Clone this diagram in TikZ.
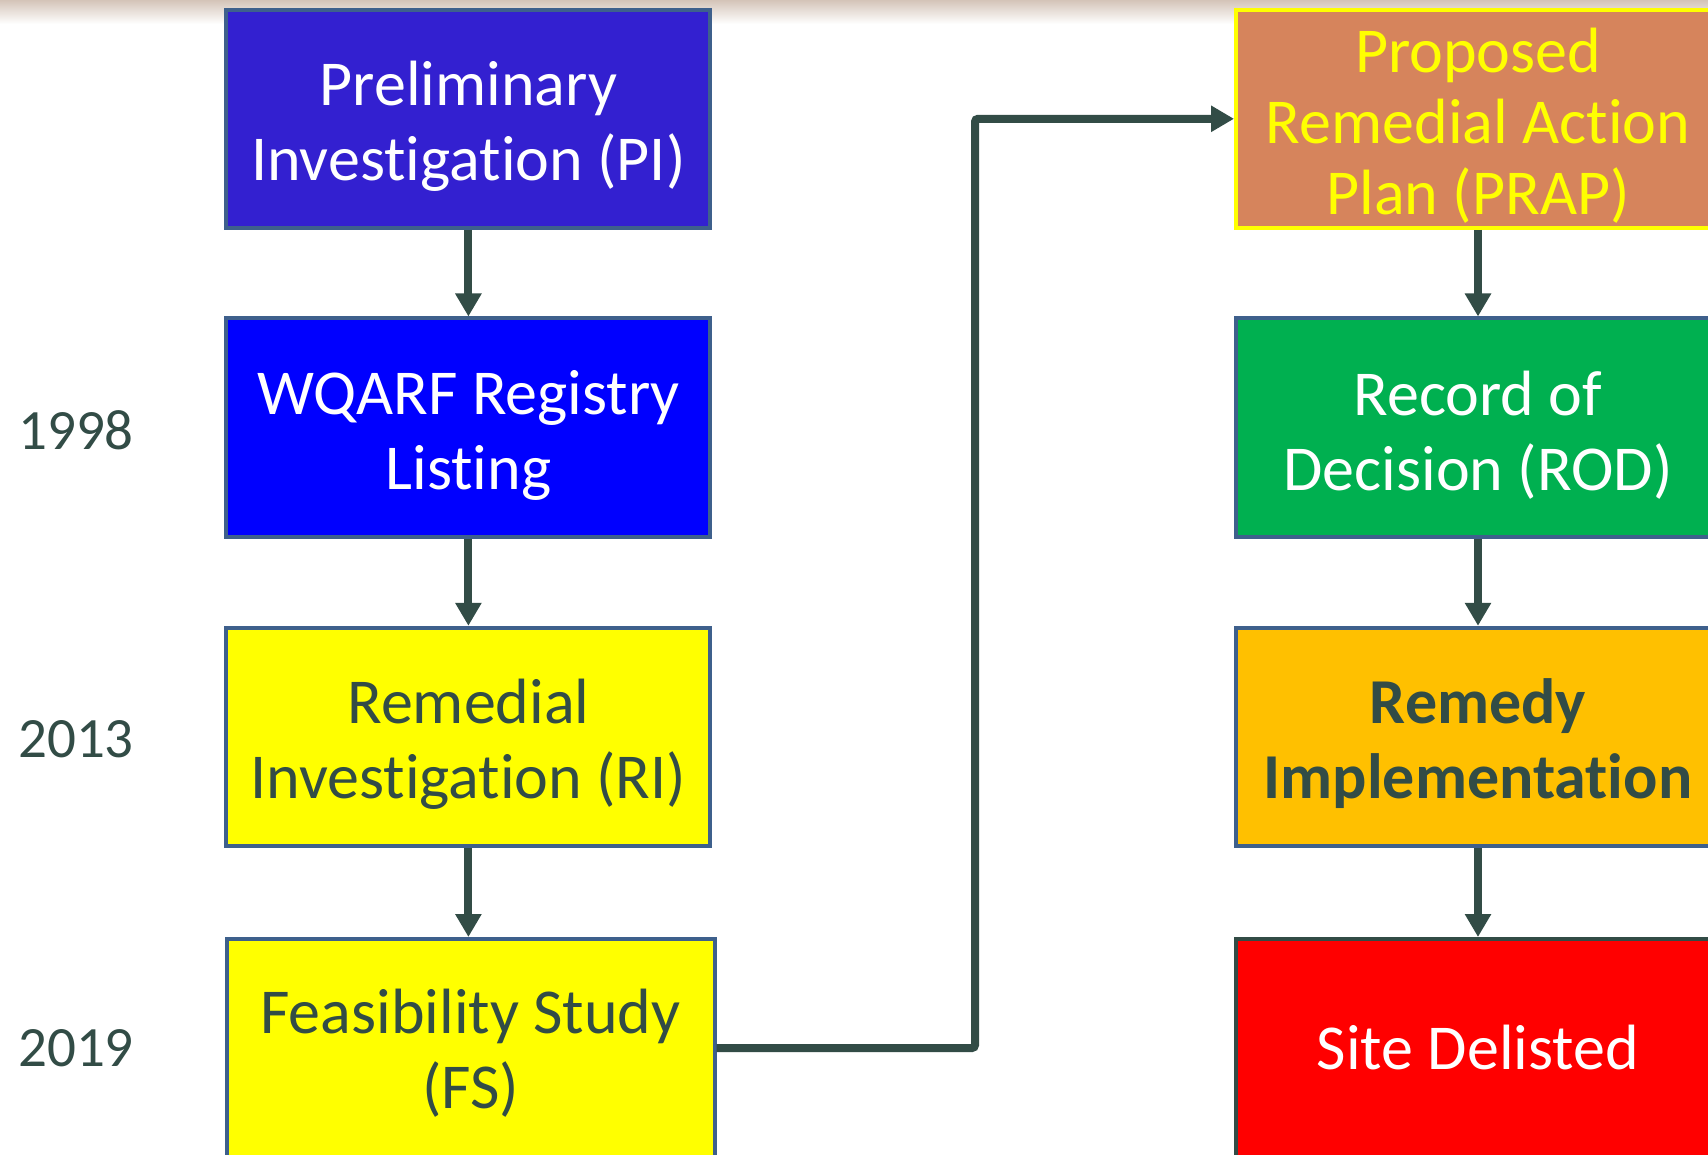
\documentclass[tikz,border=0pt]{standalone}
\usepackage{fontspec}
\setmainfont{Carlito}[Ligatures=NoCommon]
\usetikzlibrary{arrows.meta}
\definecolor{slate}{RGB}{50,76,70}
\definecolor{bordc}{RGB}{62,96,140}
\definecolor{piblue}{RGB}{51,32,208}
\definecolor{prapfill}{RGB}{214,132,92}
\definecolor{rodgreen}{RGB}{0,176,80}
\definecolor{amber}{RGB}{255,192,0}
\definecolor{topband}{RGB}{212,196,184}
\definecolor{pureyellow}{RGB}{255,255,0}
\newcommand\tstrut{\rule{0pt}{59pt}}
\newcommand\fstrut{\rule{0pt}{54pt}}
\tikzset{
  box/.style={draw=bordc, line width=4pt, minimum width=484pt, minimum height=218pt,
    inner sep=0pt, align=center, font=\fontsize{64}{75}\selectfont},
  conn/.style={draw=slate, line width=8pt, -{Triangle[width=25pt,length=23pt]}},
  year/.style={text=slate, font=\fontsize{57}{68}\selectfont, inner sep=0pt}
}
\begin{document}
\begin{tikzpicture}[x=1pt,y=-1pt]
\useasboundingbox (0,0) rectangle (1708,1155);
\clip (0,0) rectangle (1708,1155);
\fill[white] (0,0) rectangle (1708,1155);
\shade[top color=topband, bottom color=white] (0,0) rectangle (1708,24);
% left column
\node[box, fill=piblue, text=white] (pi) at (468.4,118.8) {\tstrut Preliminary\\Investigation (PI)};
\node[box, fill=blue, text=white] (wq) at (468.4,427.5) {\tstrut WQARF Registry\\Listing};
\node[box, fill=pureyellow, text=slate] (ri) at (468.4,736.8) {\tstrut Remedial\\Investigation (RI)};
\node[box, fill=pureyellow, text=slate, minimum width=488pt] (fs) at (470.6,1048) {\fstrut Feasibility Study\\(FS)};
% right column
\node[box, fill=prapfill, draw=pureyellow, text=pureyellow, font=\fontsize{64}{71}\selectfont] (prap) at (1478,118.8) {\tstrut Proposed\\Remedial Action\\Plan (PRAP)};
\node[box, fill=rodgreen, text=white] (rod) at (1478,427.5) {\tstrut Record of\\Decision (ROD)};
\node[box, fill=amber, text=slate, font=\fontsize{64}{75}\selectfont\bfseries] (rem) at (1478,736.8) {\tstrut Remedy\\Implementation};
\node[box, fill=red, draw=slate, text=white] (sd) at (1478,1048) {Site Delisted};
% years
\node[year] (y1) at (76,430) {1998};
\node[year] (y2) at (76,739) {2013};
\node[year] (y3) at (76,1048) {2019};
% connectors
\draw[conn] (pi.south) -- (wq.north);
\draw[conn] (wq.south) -- (ri.north);
\draw[conn] (ri.south) -- (ri.south |- fs.north);
\draw[conn] (prap.south) -- (rod.north);
\draw[conn] (rod.south) -- (rem.north);
\draw[conn] (rem.south) -- (sd.north);
\coordinate (turn) at (975,118.8);
\draw[conn, rounded corners=3pt] (fs.east) -- (fs.east -| turn) -- (turn) -- (prap.west);
\end{tikzpicture}
\end{document}
